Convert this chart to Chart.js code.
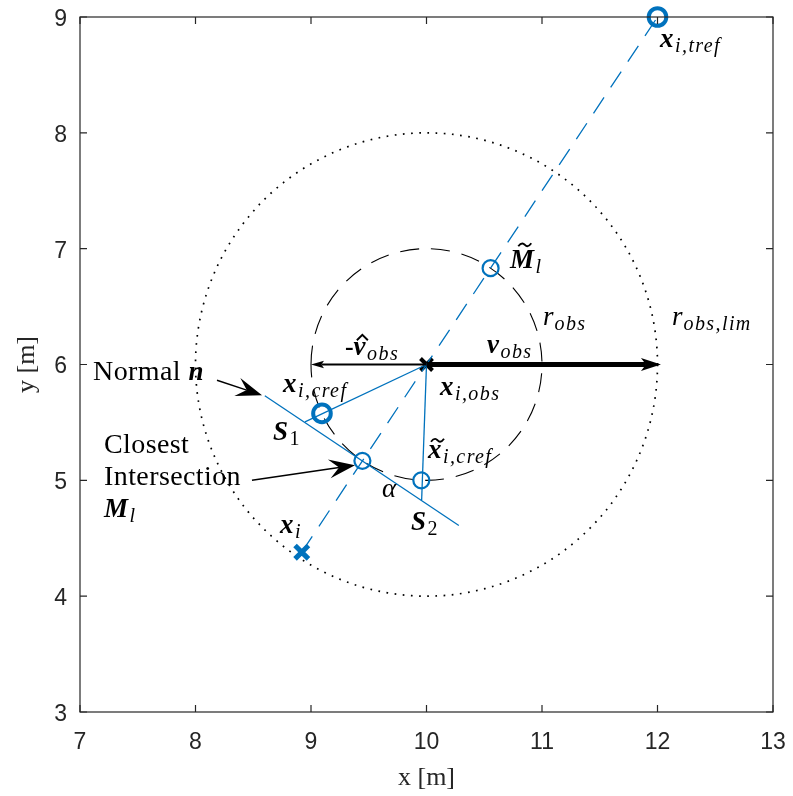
<!DOCTYPE html>
<html>
<head>
<meta charset="utf-8">
<script src="https://cdn.jsdelivr.net/npm/chart.js@4/dist/chart.umd.min.js"></script>
<style>
html, body { margin: 0; padding: 0; background: #ffffff; }
canvas { display: block; }
</style>
</head>
<body>
<canvas id="chart" width="793" height="796"></canvas>
<script>
// ---- Scene data (metres) ----
const obsCenter = [10, 6];
const obsRadius = 1;        // r_obs
const obsRadiusLim = 2;     // r_obs,lim
const trajectory = [[8.92, 4.38], [12, 9]];          // x_i -> x_i,tref
const normalLine = [[8.6, 5.73], [10.28, 4.61]];     // normal n through M_l
const rayS1 = [[10, 6], [8.948, 5.505]];             // x_i,obs -> x_i,cref -> S_1
const rayS2 = [[10, 6], [9.958, 4.83]];              // x_i,obs -> x~_i,cref -> S_2
const refThick = [[9.095, 5.578], [12, 9]];          // x_i,cref, x_i,tref
const refThin = [[9.445, 5.168], [10.555, 6.832], [9.955, 5.0]]; // M_l, M~_l, x~_i,cref
const agentPos = [[8.92, 4.38]];                     // x_i
const obsPos = [[10, 6]];                            // x_i,obs
const vObs = [[10, 6], [12.03, 6]];
const vObsHatNeg = [[10, 6], [9, 6]];
const xTicks = [7, 8, 9, 10, 11, 12, 13];
const yTicks = [3, 4, 5, 6, 7, 8, 9];

// Annotation arrows: [from, to]
const arrowNormal = [[8.186, 5.864], [8.576, 5.735]];
const arrowClosest = [[8.489, 5.0], [9.381, 5.131]];

// Text labels: anchor (left, baseline) and runs of [text, style]
const textLabels = [
  { at: [12.022, 8.74], runs: [['x', 'B'], ['i,tref', 's']] },
  { at: [10.723, 6.835], runs: [['M', 'Bt'], ['l', 's']] },
  { at: [11.009, 6.339], runs: [['r', 'I'], ['obs', 's']] },
  { at: [12.126, 6.339], runs: [['r', 'I'], ['obs,lim', 's']] },
  { at: [10.524, 6.098], runs: [['v', 'B'], ['obs', 's']] },
  { at: [9.294, 6.08], runs: [['-', 'R'], ['v', 'Bh'], ['obs', 's']] },
  { at: [10.117, 5.735], runs: [['x', 'B'], ['i,obs', 's']] },
  { at: [8.758, 5.761], runs: [['x', 'B'], ['i,cref', 's']] },
  { at: [8.671, 5.346], runs: [['S', 'B'], ['1', 'n']] },
  { at: [10.013, 5.191], runs: [['x', 'Bt'], ['i,cref', 's']] },
  { at: [9.615, 4.854], runs: [['\u03B1', 'I']] },
  { at: [9.866, 4.569], runs: [['S', 'B'], ['2', 'n']] },
  { at: [8.732, 4.543], runs: [['x', 'B'], ['i', 's']] },
  { at: [7.113, 5.864], runs: [['Normal ', 'T'], ['n', 'B']] },
  { at: [7.208, 5.233], runs: [['Closest', 'T']] },
  { at: [7.208, 4.957], runs: [['Intersection', 'T']] },
  { at: [7.208, 4.681], runs: [['M', 'B'], ['l', 's']] }
];

const BLUE = '#0072BD';
const AXIS = '#262626';
const SERIF = '"Liberation Serif", "Times New Roman", serif';

const runStyles = {
  B:  { font: `italic bold 27px ${SERIF}`, dy: 0, sp: 1.5 },
  Bt: { font: `italic bold 27px ${SERIF}`, dy: 0, sp: 1.5, acc: 'tilde' },
  Bh: { font: `italic bold 27px ${SERIF}`, dy: 0, sp: 1.5, acc: 'hat' },
  I:  { font: `italic 27px ${SERIF}`, dy: 0, sp: 1 },
  R:  { font: `bold 26px ${SERIF}`, dy: 0, sp: 0 },
  s:  { font: `italic 20px ${SERIF}`, dy: 5, sp: 1.4 },
  n:  { font: `20px ${SERIF}`, dy: 5, sp: 0 },
  T:  { font: `28px ${SERIF}`, dy: 0, sp: 0.4 }
};

const pts = arr => arr.map(([x, y]) => ({ x, y }));

function drawRuns(ctx, px, py, runs) {
  let x = px;
  ctx.fillStyle = '#000';
  ctx.textAlign = 'left';
  ctx.textBaseline = 'alphabetic';
  for (const [txt, kind] of runs) {
    const st = runStyles[kind];
    ctx.font = st.font;
    ctx.letterSpacing = st.sp + 'px';
    ctx.fillText(txt, x, py + st.dy);
    const m = ctx.measureText(txt);
    const w = m.width;
    if (st.acc) {
      const top = py - m.actualBoundingBoxAscent;
      const cx = x + w / 2 + 2;
      ctx.save();
      ctx.strokeStyle = '#000';
      ctx.lineWidth = 1.9;
      ctx.beginPath();
      if (st.acc === 'tilde') {
        const ay = top - 5;
        ctx.moveTo(cx - 6.5, ay + 1.5);
        ctx.bezierCurveTo(cx - 3, ay - 3, cx - 1, ay - 1, cx, ay);
        ctx.bezierCurveTo(cx + 1, ay + 1, cx + 3, ay + 3.5, cx + 6.5, ay - 1.5);
      } else {
        const ay = top - 4;
        ctx.moveTo(cx - 5.5, ay + 2);
        ctx.lineTo(cx, ay - 3.5);
        ctx.lineTo(cx + 5.5, ay + 2);
      }
      ctx.stroke();
      ctx.restore();
    }
    x += w;
  }
  ctx.letterSpacing = '0px';
}

// Filled arrow head with swept-back barbs
function arrowHead(ctx, x0, y0, x1, y1, len, halfW, notch) {
  const a = Math.atan2(y1 - y0, x1 - x0);
  const c = Math.cos(a), s = Math.sin(a);
  const bx = x1 - c * len, by = y1 - s * len;
  const nx = x1 - c * len * notch, ny = y1 - s * len * notch;
  ctx.beginPath();
  ctx.moveTo(x1, y1);
  ctx.lineTo(bx - s * halfW, by + c * halfW);
  ctx.lineTo(nx, ny);
  ctx.lineTo(bx + s * halfW, by - c * halfW);
  ctx.closePath();
  ctx.fill();
  return [nx, ny];
}

const scenePlugin = {
  id: 'scene',
  beforeDatasetsDraw(chart) {
    const { ctx, scales: { x, y } } = chart;
    const cx = x.getPixelForValue(obsCenter[0]);
    const cy = y.getPixelForValue(obsCenter[1]);
    ctx.save();
    ctx.strokeStyle = '#000';
    // r_obs,lim (dotted)
    ctx.lineWidth = 1.7;
    ctx.setLineDash([1.7, 6.5]);
    ctx.beginPath();
    ctx.ellipse(cx, cy,
      Math.abs(x.getPixelForValue(obsCenter[0] + obsRadiusLim) - cx),
      Math.abs(y.getPixelForValue(obsCenter[1] + obsRadiusLim) - cy), 0, 0, Math.PI * 2);
    ctx.stroke();
    // r_obs (dashed)
    ctx.lineWidth = 1.1;
    ctx.setLineDash([19, 12]);
    ctx.beginPath();
    ctx.ellipse(cx, cy,
      Math.abs(x.getPixelForValue(obsCenter[0] + obsRadius) - cx),
      Math.abs(y.getPixelForValue(obsCenter[1] + obsRadius) - cy), 0, Math.PI, Math.PI * 3);
    ctx.stroke();
    ctx.restore();
  },
  afterDatasetsDraw(chart) {
    const { ctx, scales: { x, y } } = chart;
    const P = ([a, b]) => [x.getPixelForValue(a), y.getPixelForValue(b)];
    ctx.save();
    ctx.fillStyle = '#000';
    ctx.strokeStyle = '#000';
    ctx.setLineDash([]);

    // v_obs (thick)
    {
      const [x0, y0] = P(vObs[0]);
      const [x1, y1] = P(vObs[1]);
      const [nx, ny] = arrowHead(ctx, x0, y0, x1, y1, 20, 6.5, 0.75);
      ctx.lineWidth = 5;
      ctx.beginPath(); ctx.moveTo(x0, y0); ctx.lineTo(nx, ny); ctx.stroke();
    }
    // -v_obs hat (thin)
    {
      const [x0, y0] = P(vObsHatNeg[0]);
      const [x1, y1] = P(vObsHatNeg[1]);
      const [nx, ny] = arrowHead(ctx, x0, y0, x1, y1, 13, 3.8, 0.8);
      ctx.lineWidth = 1.8;
      ctx.beginPath(); ctx.moveTo(x0, y0); ctx.lineTo(nx, ny); ctx.stroke();
    }
    // annotation arrows
    for (const ar of [arrowNormal, arrowClosest]) {
      const [x0, y0] = P(ar[0]);
      const [x1, y1] = P(ar[1]);
      const [nx, ny] = arrowHead(ctx, x0, y0, x1, y1, 26, 9.5, 0.62);
      ctx.lineWidth = 1.5;
      ctx.beginPath(); ctx.moveTo(x0, y0); ctx.lineTo(nx, ny); ctx.stroke();
    }
    // labels
    for (const lb of textLabels) {
      const [px, py] = P(lb.at);
      drawRuns(ctx, px, py, lb.runs);
    }
    ctx.restore();
  },
  afterDraw(chart) {
    // box with inward ticks on all four sides
    const { ctx, chartArea: a, scales: { x, y } } = chart;
    ctx.save();
    ctx.strokeStyle = AXIS;
    ctx.lineWidth = 1.2;
    ctx.setLineDash([]);
    ctx.strokeRect(a.left, a.top, a.right - a.left, a.bottom - a.top);
    const tl = 7;
    ctx.beginPath();
    for (const v of xTicks) {
      const px = x.getPixelForValue(v);
      ctx.moveTo(px, a.bottom); ctx.lineTo(px, a.bottom - tl);
      ctx.moveTo(px, a.top); ctx.lineTo(px, a.top + tl);
    }
    for (const v of yTicks) {
      const py = y.getPixelForValue(v);
      ctx.moveTo(a.left, py); ctx.lineTo(a.left + tl, py);
      ctx.moveTo(a.right, py); ctx.lineTo(a.right - tl, py);
    }
    ctx.stroke();
    ctx.restore();
  }
};

const lineDs = (data, dash) => ({
  data: pts(data), showLine: true, borderColor: BLUE, borderWidth: 1.3,
  borderDash: dash || [], pointRadius: 0, pointHoverRadius: 0, fill: false, clip: false
});
const markerDs = (data, style, r, w, color) => ({
  data: pts(data), showLine: false, pointStyle: style, pointRadius: r, pointHoverRadius: r,
  pointBorderWidth: w, pointBorderColor: color, pointBackgroundColor: 'rgba(0,0,0,0)',
  borderColor: color, clip: false
});

const tickFont = { family: '"Liberation Sans", Arial, sans-serif', size: 23 };

new Chart(document.getElementById('chart'), {
  type: 'scatter',
  data: {
    datasets: [
      lineDs(trajectory, [19, 12]),
      lineDs(normalLine),
      lineDs(rayS1),
      lineDs(rayS2),
      markerDs(refThick, 'circle', 8.8, 4, BLUE),
      markerDs(refThin, 'circle', 8, 2.2, BLUE),
      markerDs(agentPos, 'crossRot', 9.5, 5, BLUE),
      markerDs(obsPos, 'crossRot', 8.5, 4, '#000')
    ]
  },
  options: {
    responsive: false,
    devicePixelRatio: 1,
    animation: false,
    events: [],
    layout: { padding: { left: 0, top: 17, right: 20, bottom: 0 } },
    plugins: { legend: { display: false }, tooltip: { enabled: false } },
    scales: {
      x: {
        type: 'linear', min: 7, max: 13,
        afterBuildTicks: s => { s.ticks = xTicks.map(v => ({ value: v })); },
        afterFit: s => { s.height = 84; s.paddingLeft = 0; s.paddingRight = 0; },
        grid: { display: false, drawTicks: false },
        border: { display: false },
        ticks: { font: tickFont, color: AXIS, padding: 17, maxRotation: 0 },
        title: { display: true, text: 'x [m]', color: AXIS,
          font: { family: SERIF, size: 26, lineHeight: 1 }, padding: { top: 0, bottom: 5 } }
      },
      y: {
        type: 'linear', min: 3, max: 9,
        afterBuildTicks: s => { s.ticks = yTicks.map(v => ({ value: v })); },
        afterFit: s => { s.width = 80; s.paddingTop = 0; s.paddingBottom = 0; },
        grid: { display: false, drawTicks: false },
        border: { display: false },
        ticks: { font: tickFont, color: AXIS, padding: 13, labelOffset: 2.5 },
        title: { display: true, text: 'y [m]', color: AXIS,
          font: { family: SERIF, size: 26, lineHeight: 1 }, padding: { top: 14, bottom: 0 } }
      }
    }
  },
  plugins: [scenePlugin]
});
</script>
</body>
</html>
